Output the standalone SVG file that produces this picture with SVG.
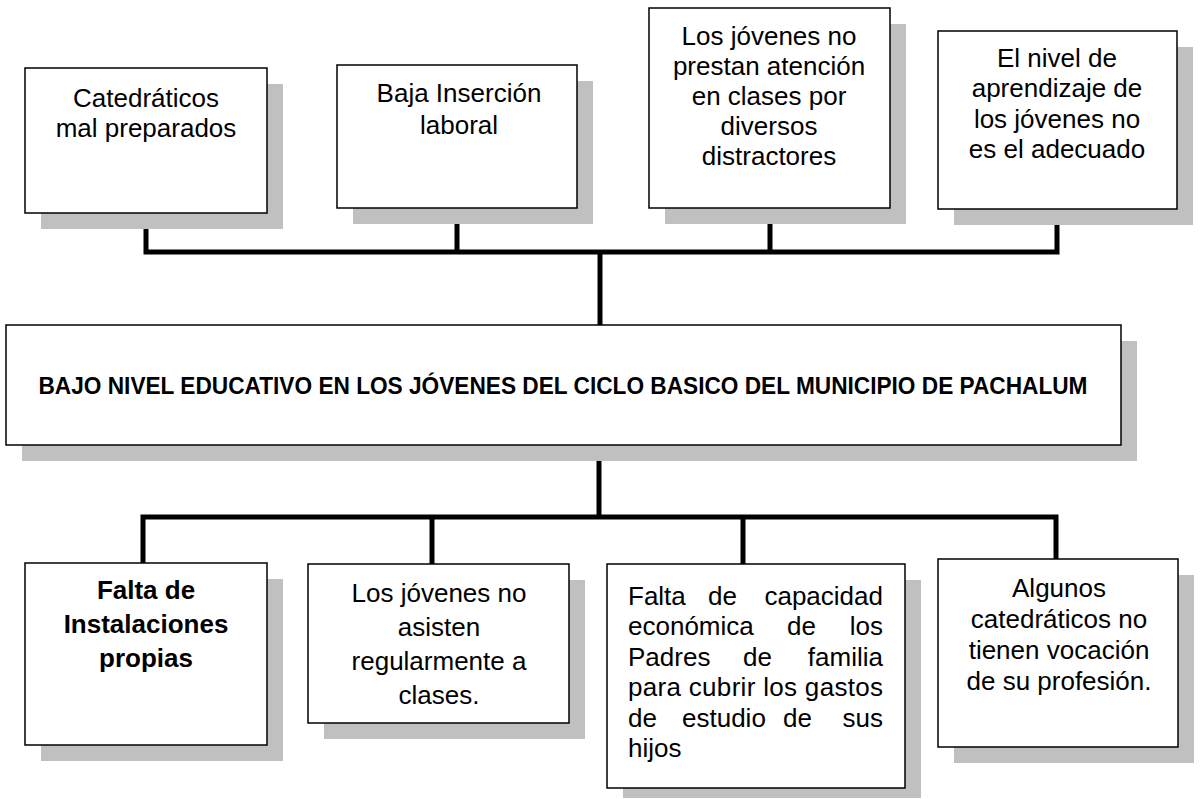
<svg xmlns="http://www.w3.org/2000/svg" width="1201" height="799" viewBox="0 0 1201 799">
<style>
.sh{fill:#c0c0c0}
.bx{fill:#fff;stroke:#000;stroke-width:1.5}
.t{font-family:"Liberation Sans",Arial,sans-serif;font-size:26px;fill:#000;text-anchor:middle}
.tl{font-family:"Liberation Sans",Arial,sans-serif;font-size:26px;fill:#000}
.b{font-weight:bold}
.ttl{font-family:"Liberation Sans",Arial,sans-serif;font-size:24px;font-weight:bold;fill:#000;text-anchor:middle}
.cn{fill:none;stroke:#000;stroke-width:5;stroke-linejoin:miter;stroke-linecap:butt}
</style>
<rect width="1201" height="799" fill="#fff"/>
<g id="connectors">
<path class="cn" d="M146,212 V252 H1057 V209"/>
<path class="cn" d="M457,208 V252"/>
<path class="cn" d="M770,208 V252"/>
<path class="cn" d="M600,252 V325"/>
<path class="cn" d="M599,445 V517"/>
<path class="cn" d="M143,563 V517 H1056 V559"/>
<path class="cn" d="M432,517 V564"/>
<path class="cn" d="M743,517 V564"/>
</g>
<g id="n1">
<rect class="sh" x="41" y="84" width="242" height="145"/>
<rect class="bx" x="25" y="68" width="242" height="145"/>
<text class="t"><tspan x="146" y="107">Catedráticos</tspan><tspan x="146" y="137">mal preparados</tspan></text>
</g>
<g id="n2">
<rect class="sh" x="353" y="81" width="240" height="143"/>
<rect class="bx" x="337" y="65" width="240" height="143"/>
<text class="t"><tspan x="459" y="102">Baja Inserción</tspan><tspan x="459" y="134">laboral</tspan></text>
</g>
<g id="n3">
<rect class="sh" x="665" y="24" width="241" height="200"/>
<rect class="bx" x="649" y="8" width="241" height="200"/>
<text class="t"><tspan x="769" y="45">Los jóvenes no</tspan><tspan x="769" y="75">prestan atención</tspan><tspan x="769" y="105">en clases por</tspan><tspan x="769" y="135">diversos</tspan><tspan x="769" y="165">distractores</tspan></text>
</g>
<g id="n4">
<rect class="sh" x="954" y="47" width="239" height="178"/>
<rect class="bx" x="938" y="31" width="239" height="178"/>
<text class="t"><tspan x="1057" y="67">El nivel de</tspan><tspan x="1057" y="97">aprendizaje de</tspan><tspan x="1057" y="128">los jóvenes no</tspan><tspan x="1057" y="158">es el adecuado</tspan></text>
</g>
<g id="center">
<rect class="sh" x="22" y="341" width="1115" height="120"/>
<rect class="bx" x="6" y="325" width="1115" height="120"/>
<text class="ttl" x="563" y="394" textLength="1049" lengthAdjust="spacingAndGlyphs">BAJO NIVEL EDUCATIVO EN LOS JÓVENES DEL CICLO  BASICO DEL MUNICIPIO DE PACHALUM</text>
</g>
<g id="n5">
<rect class="sh" x="41" y="579" width="242" height="182"/>
<rect class="bx" x="25" y="563" width="242" height="182"/>
<text class="t b"><tspan x="146" y="599">Falta de</tspan><tspan x="146" y="633">Instalaciones</tspan><tspan x="146" y="667">propias</tspan></text>
</g>
<g id="n6">
<rect class="sh" x="324" y="580" width="261" height="159"/>
<rect class="bx" x="308" y="564" width="261" height="159"/>
<text class="t"><tspan x="439" y="602">Los jóvenes no</tspan><tspan x="439" y="636">asisten</tspan><tspan x="439" y="670">regularmente a</tspan><tspan x="439" y="704">clases.</tspan></text>
</g>
<g id="n7">
<rect class="sh" x="623" y="580" width="298" height="218"/>
<rect class="bx" x="607" y="564" width="298" height="224"/>
<text class="tl"><tspan x="628" y="605">Falta</tspan><tspan x="708" y="605">de</tspan><tspan x="883" y="605" text-anchor="end">capacidad</tspan></text>
<text class="tl"><tspan x="628" y="635">económica</tspan><tspan x="787" y="635">de</tspan><tspan x="883" y="635" text-anchor="end">los</tspan></text>
<text class="tl"><tspan x="628" y="666">Padres</tspan><tspan x="743" y="666">de</tspan><tspan x="883" y="666" text-anchor="end">familia</tspan></text>
<text class="tl" x="628" y="696" textLength="255" lengthAdjust="spacing">para cubrir los gastos</text>
<text class="tl"><tspan x="628" y="727">de</tspan><tspan x="682" y="727">estudio</tspan><tspan x="783" y="727">de</tspan><tspan x="883" y="727" text-anchor="end">sus</tspan></text>
<text class="tl" x="628" y="757">hijos</text>
</g>
<g id="n8">
<rect class="sh" x="954" y="575" width="240" height="188"/>
<rect class="bx" x="938" y="559" width="240" height="188"/>
<text class="t"><tspan x="1059" y="597">Algunos</tspan><tspan x="1059" y="628">catedráticos no</tspan><tspan x="1059" y="659">tienen vocación</tspan><tspan x="1059" y="690">de su profesión.</tspan></text>
</g>
</svg>
